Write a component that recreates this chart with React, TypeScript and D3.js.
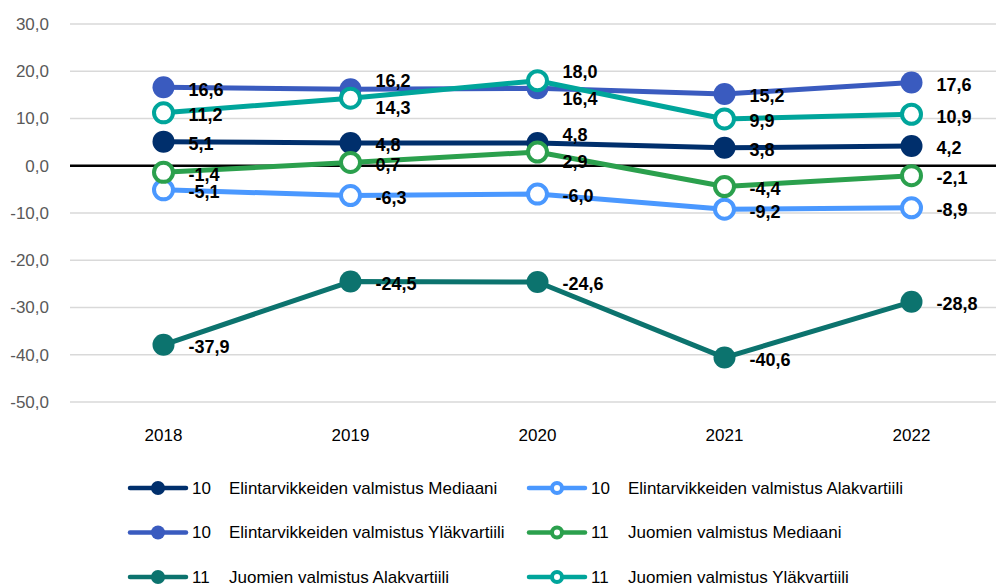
import React, { useEffect, useRef } from 'react';
import * as d3 from 'd3';

const years = ['2018', '2019', '2020', '2021', '2022'];
const yTicks = [30, 20, 10, 0, -10, -20, -30, -40, -50];

const elintMediaani = [5.1, 4.8, 4.8, 3.8, 4.2];
const elintAlakvartiili = [-5.1, -6.3, -6.0, -9.2, -8.9];
const elintYlakvartiili = [16.6, 16.2, 16.4, 15.2, 17.6];
const juomMediaani = [-1.4, 0.7, 2.9, -4.4, -2.1];
const juomAlakvartiili = [-37.9, -24.5, -24.6, -40.6, -28.8];
const juomYlakvartiili = [11.2, 14.3, 18.0, 9.9, 10.9];

const series = [
  { code: '10', name: 'Elintarvikkeiden valmistus Mediaani', values: elintMediaani, color: '#002f6c', hollow: false },
  { code: '10', name: 'Elintarvikkeiden valmistus Alakvartiili', values: elintAlakvartiili, color: '#4a98ff', hollow: true },
  { code: '10', name: 'Elintarvikkeiden valmistus Yläkvartiili', values: elintYlakvartiili, color: '#3a5bbf', hollow: false },
  { code: '11', name: 'Juomien valmistus Mediaani', values: juomMediaani, color: '#2ba04d', hollow: true },
  { code: '11', name: 'Juomien valmistus Alakvartiili', values: juomAlakvartiili, color: '#0c736e', hollow: false },
  { code: '11', name: 'Juomien valmistus Yläkvartiili', values: juomYlakvartiili, color: '#00a59b', hollow: true },
];

const FONT = "'Liberation Sans', Arial, sans-serif";
const fmt = (v: number) => v.toFixed(1).replace('.', ',');

export default function App() {
  const ref = useRef<SVGSVGElement>(null);

  useEffect(() => {
    const width = 996;
    const svg = d3.select(ref.current);
    svg.selectAll('*').remove();

    const x = d3.scaleBand().domain(years).range([70, 1005]);
    const y = d3.scaleLinear().domain([-50, 30]).range([402, 24]);
    const cx = (d: string) => (x(d) as number) + x.bandwidth() / 2;

    // gridlines + y labels
    svg.append('g')
      .selectAll('line')
      .data(yTicks.filter(t => t !== 0))
      .enter()
      .append('line')
      .attr('x1', 70).attr('x2', width)
      .attr('y1', d => y(d)).attr('y2', d => y(d))
      .attr('stroke', '#d9d9d9')
      .attr('stroke-width', 1.5);

    svg.append('g')
      .selectAll('text')
      .data(yTicks)
      .enter()
      .append('text')
      .attr('x', 49)
      .attr('y', d => y(d))
      .attr('dy', '0.35em')
      .attr('text-anchor', 'end')
      .attr('font-family', FONT)
      .attr('font-size', 17)
      .attr('fill', '#595959')
      .text(d => fmt(d));

    svg.append('line')
      .attr('x1', 70).attr('x2', width)
      .attr('y1', y(0)).attr('y2', y(0))
      .attr('stroke', '#000')
      .attr('stroke-width', 2.5);

    svg.append('g')
      .selectAll('text')
      .data(years)
      .enter()
      .append('text')
      .attr('x', d => cx(d))
      .attr('y', 435)
      .attr('dy', '0.35em')
      .attr('text-anchor', 'middle')
      .attr('font-family', FONT)
      .attr('font-size', 17)
      .attr('fill', '#000')
      .text(d => d);

    const line = d3.line<number>()
      .x((_, i) => cx(years[i]))
      .y(d => y(d));

    series.forEach(s => {
      const g = svg.append('g');
      g.append('path')
        .attr('d', line(s.values))
        .attr('fill', 'none')
        .attr('stroke', s.color)
        .attr('stroke-width', 5)
        .attr('stroke-linejoin', 'round');
      g.selectAll('circle')
        .data(s.values)
        .enter()
        .append('circle')
        .attr('cx', (_, i) => cx(years[i]))
        .attr('cy', d => y(d))
        .attr('r', s.hollow ? 9.5 : 11)
        .attr('fill', s.hollow ? '#fff' : s.color)
        .attr('stroke', s.hollow ? s.color : 'none')
        .attr('stroke-width', 4);
    });

    // data labels, pushed apart where they would overlap
    years.forEach((yr, i) => {
      const items = series.map(s => ({ v: s.values[i], pos: y(s.values[i]) }))
        .sort((a, b) => a.pos - b.pos);
      for (let k = 1; k < items.length; k++) {
        const a = items[k - 1], b = items[k];
        if (b.pos - a.pos < 16) {
          const mid = (a.pos + b.pos) / 2;
          a.pos = mid - 12.5;
          b.pos = mid + 12.5;
        } else {
          a.pos += 2;
        }
      }
      items[items.length - 1].pos += 2;
      svg.append('g')
        .selectAll('text')
        .data(items)
        .enter()
        .append('text')
        .attr('x', cx(yr) + 25)
        .attr('y', d => d.pos)
        .attr('dy', '0.35em')
        .attr('font-family', FONT)
        .attr('font-size', 18)
        .attr('font-weight', 'bold')
        .attr('fill', '#000')
        .text(d => fmt(d.v));
    });

    // legend, two columns
    const legend = svg.append('g')
      .selectAll('g')
      .data(series)
      .enter()
      .append('g')
      .attr('transform', (_, i) => `translate(${i % 2 === 0 ? 130 : 529},${488 + Math.floor(i / 2) * 44.5})`);

    legend.append('line')
      .attr('x1', 0).attr('x2', 56)
      .attr('stroke', d => d.color)
      .attr('stroke-width', 4.5)
      .attr('stroke-linecap', 'round');
    legend.append('circle')
      .attr('cx', 28)
      .attr('r', d => d.hollow ? 5 : 7)
      .attr('fill', d => d.hollow ? '#fff' : d.color)
      .attr('stroke', d => d.hollow ? d.color : 'none')
      .attr('stroke-width', 4);
    legend.append('text')
      .attr('x', 62)
      .attr('dy', '0.35em')
      .attr('font-family', FONT)
      .attr('font-size', 17)
      .attr('fill', '#000')
      .text(d => d.code);
    legend.append('text')
      .attr('x', 99)
      .attr('dy', '0.35em')
      .attr('font-family', FONT)
      .attr('font-size', 17)
      .attr('fill', '#000')
      .text(d => d.name);
  }, []);

  return (
    <svg ref={ref} width={996} height={587}
      style={{ position: 'absolute', left: 0, top: 0, background: '#fff' }} />
  );
}
